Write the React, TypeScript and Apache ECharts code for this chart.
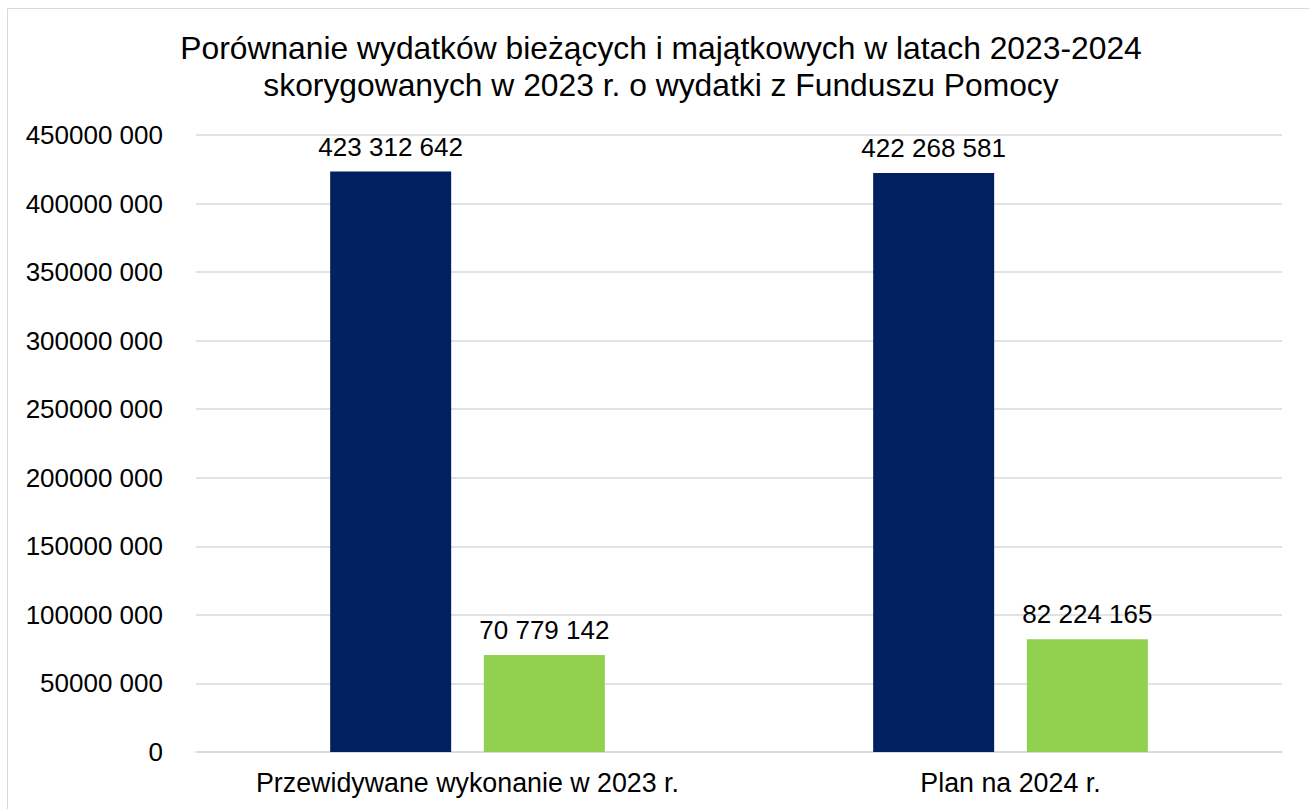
import React, { useEffect, useRef } from "react";
import * as echarts from "echarts";

const categories = ["Przewidywane wykonanie w 2023 r.", "Plan na 2024 r."];
const currentSpending = [423312642, 422268581];
const capitalSpending = [70779142, 82224165];
const titleLines = [
  "Porównanie wydatków bieżących i majątkowych w latach 2023-2024",
  "skorygowanych w 2023 r. o wydatki z Funduszu Pomocy",
];

const FONT = "'Liberation Sans', Arial, sans-serif";

function fmtLabel(v: number): string {
  return String(Math.round(v)).replace(/\B(?=(\d{3})+(?!\d))/g, " ");
}
function fmtAxis(v: number): string {
  if (v === 0) return "0";
  const thousands = Math.floor(v / 1000);
  const rest = String(v % 1000).padStart(3, "0");
  return thousands + " " + rest;
}

export default function App() {
  const ref = useRef<HTMLDivElement>(null);
  useEffect(() => {
    if (!ref.current) return;
    const chart = echarts.init(ref.current, undefined, { renderer: "svg" });
    const labelCfg = {
      show: true,
      position: "top" as const,
      distance: 12,
      color: "#000",
      fontSize: 26,
      fontFamily: FONT,
      formatter: (p: any) => fmtLabel(p.value),
    };
    chart.setOption({
      animation: false,
      backgroundColor: "#fff",
      title: {
        text: titleLines.join("\n"),
        left: 656,
        top: 24,
        textAlign: "center",
        textStyle: {
          fontFamily: FONT,
          fontSize: 31.8,
          fontWeight: "normal",
          color: "#000",
          lineHeight: 37,
        },
      },
      graphic: [
        {
          type: "rect",
          shape: { x: 7.5, y: 8.5, width: 1400, height: 900 },
          style: { fill: "none", stroke: "#d9d9d9", lineWidth: 1 },
          silent: true,
        },
      ],
      grid: { left: 196, right: 27, top: 135, bottom: 57, containLabel: false },
      xAxis: {
        type: "category",
        data: categories,
        axisLine: { show: true, lineStyle: { color: "#d9d9d9", width: 1.5 } },
        axisTick: { show: false },
        axisLabel: {
          interval: 0,
          hideOverlap: false,
          color: "#000",
          fontSize: 26.8,
          fontFamily: FONT,
          margin: 17,
        },
      },
      yAxis: {
        type: "value",
        min: 0,
        max: 450000000,
        interval: 50000000,
        axisLine: { show: false },
        axisTick: { show: false },
        splitLine: { lineStyle: { color: "#d9d9d9", width: 1.5 } },
        axisLabel: {
          color: "#000",
          fontSize: 26,
          fontFamily: FONT,
          margin: 33,
          formatter: (v: number) => fmtAxis(v),
        },
      },
      series: [
        {
          type: "bar",
          name: "Wydatki bieżące",
          data: currentSpending,
          barWidth: 121,
          barGap: "27%",
          itemStyle: { color: "#002060" },
          label: labelCfg,
        },
        {
          type: "bar",
          name: "Wydatki majątkowe",
          data: capitalSpending,
          barWidth: 121,
          barGap: "27%",
          itemStyle: { color: "#92D050" },
          label: labelCfg,
        },
      ],
    });
    return () => chart.dispose();
  }, []);
  return (
    <div
      ref={ref}
      style={{ position: "fixed", left: 0, top: 0, width: 1309, height: 809 }}
    />
  );
}
